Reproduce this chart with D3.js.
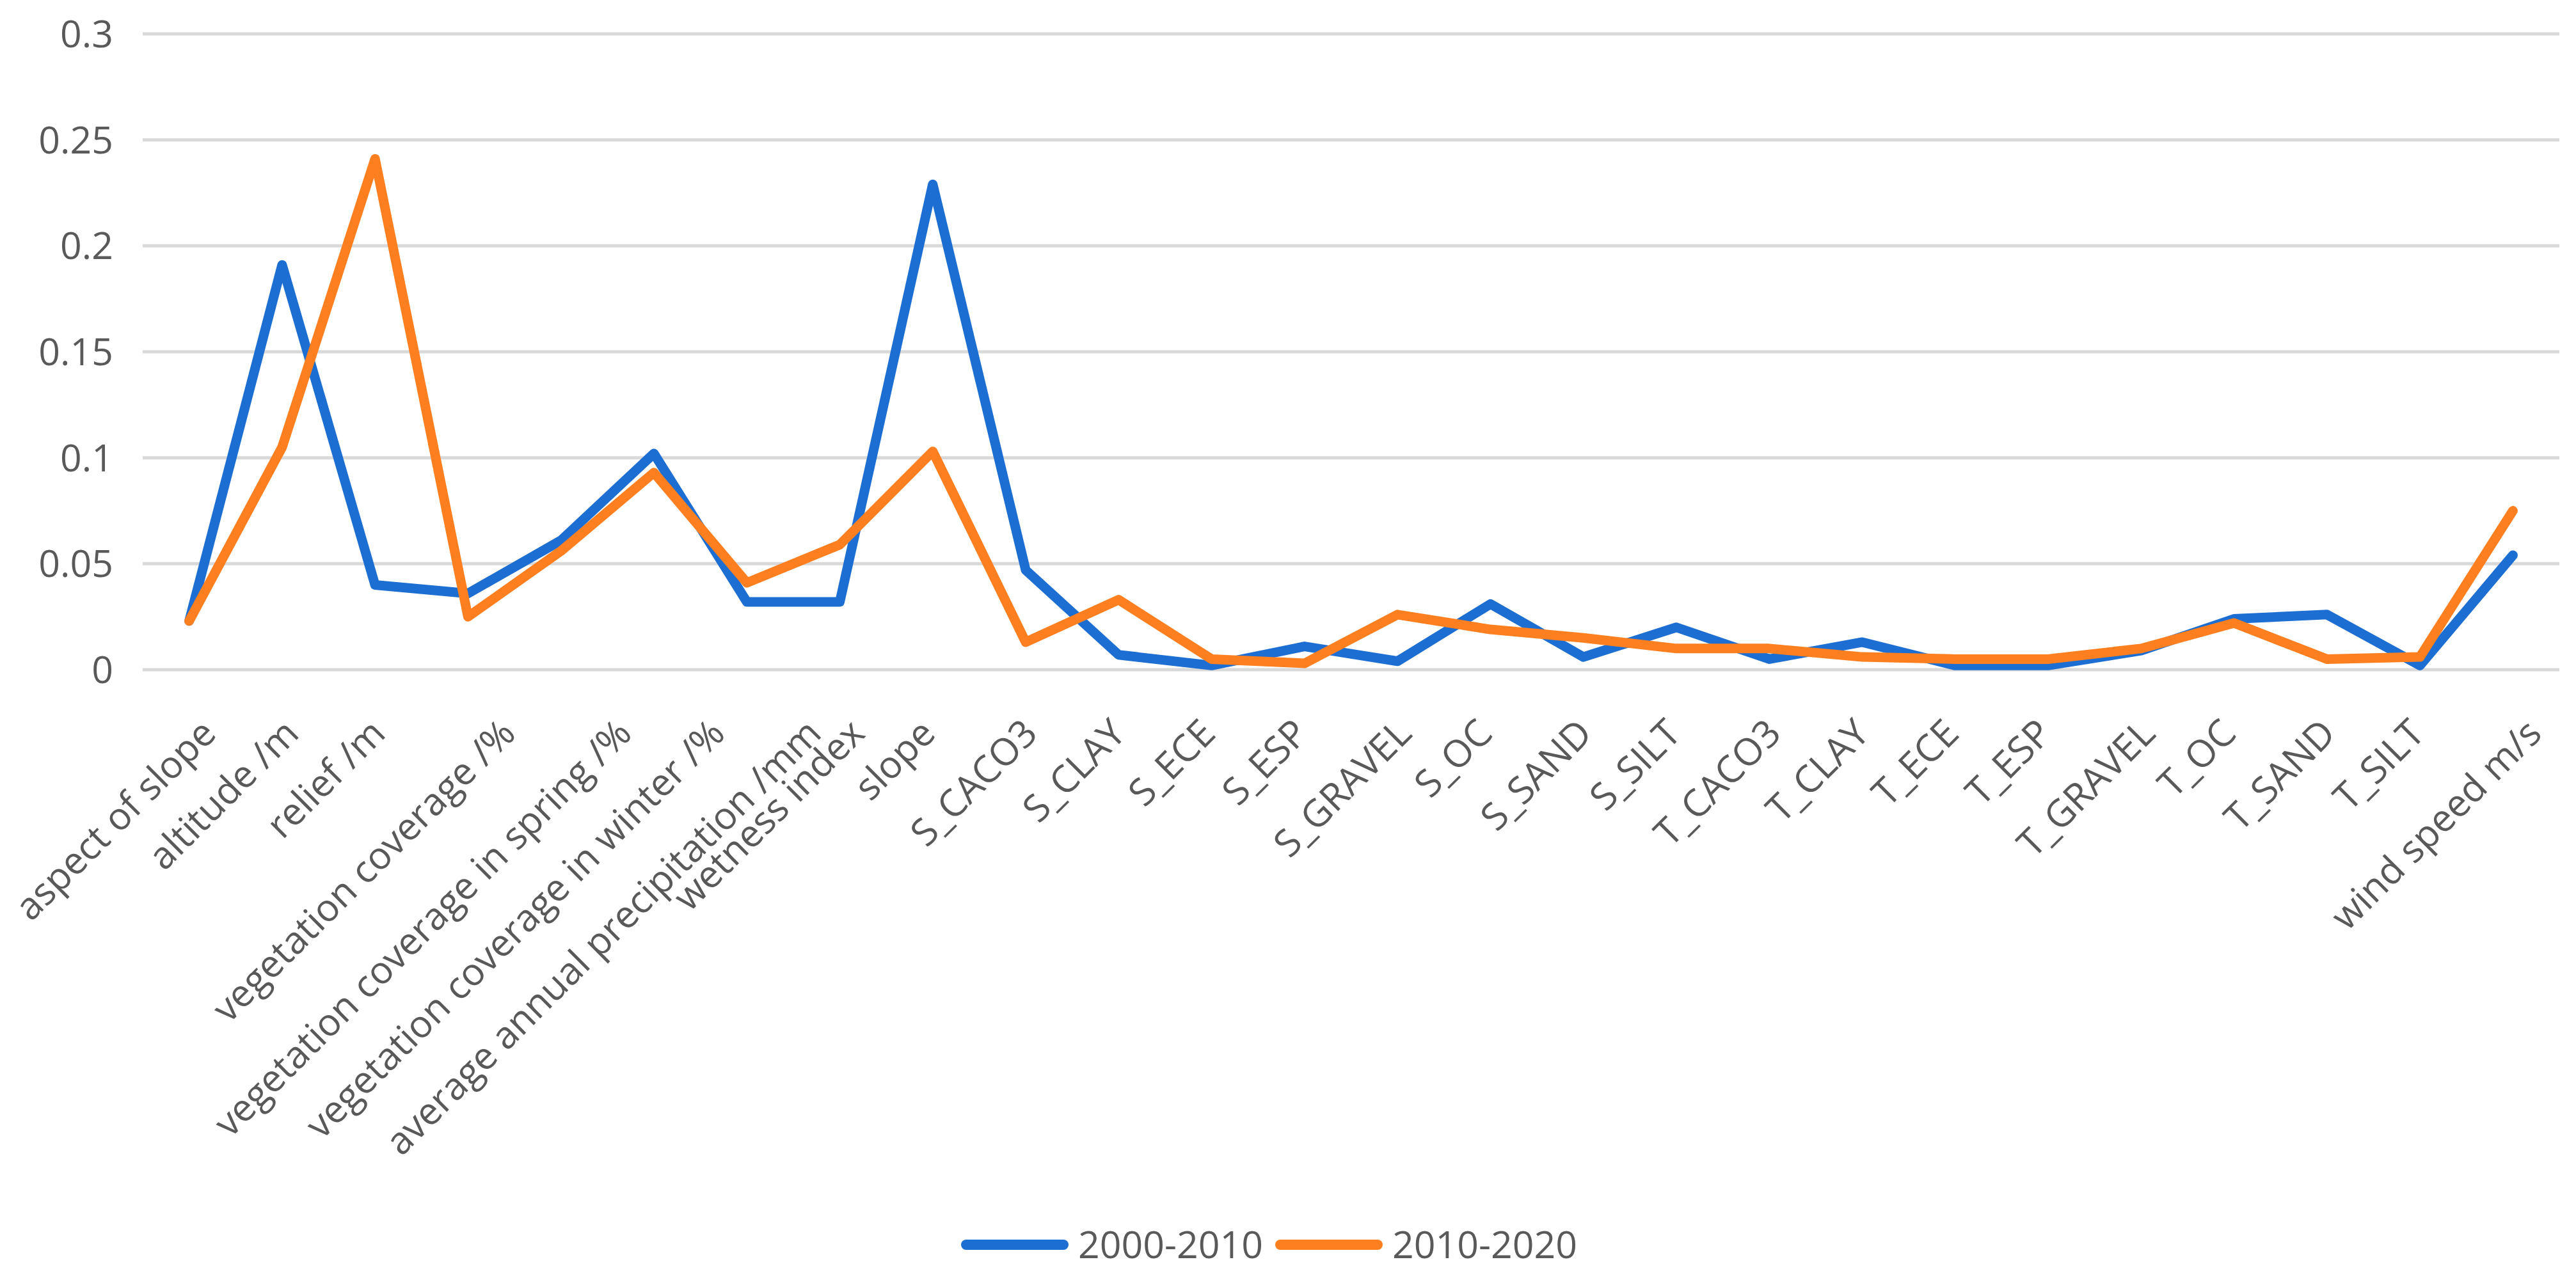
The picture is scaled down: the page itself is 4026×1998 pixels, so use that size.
<!DOCTYPE html>
<html>
<head>
<meta charset="utf-8">
<script src="https://cdn.jsdelivr.net/npm/d3@7"></script>
<style>
  html, body { margin: 0; padding: 0; background: #fff; }
  svg { display: block; }
</style>
</head>
<body>
<script>
const categories = [
  "aspect of slope", "altitude /m", "relief /m", "vegetation coverage /%",
  "vegetation coverage in spring /%", "vegetation coverage in winter /%",
  "average annual precipitation /mm", "wetness index", "slope",
  "S_CACO3", "S_CLAY", "S_ECE", "S_ESP", "S_GRAVEL", "S_OC", "S_SAND", "S_SILT",
  "T_CACO3", "T_CLAY", "T_ECE", "T_ESP", "T_GRAVEL", "T_OC", "T_SAND", "T_SILT",
  "wind speed m/s"
];
const series2000_2010 = [
  0.023, 0.191, 0.040, 0.036, 0.061, 0.102, 0.032, 0.032, 0.229,
  0.047, 0.007, 0.002, 0.011, 0.004, 0.031, 0.006, 0.020,
  0.005, 0.013, 0.002, 0.002, 0.009, 0.024, 0.026, 0.002,
  0.054
];
const series2010_2020 = [
  0.023, 0.105, 0.241, 0.025, 0.056, 0.093, 0.041, 0.059, 0.103,
  0.013, 0.033, 0.005, 0.003, 0.026, 0.019, 0.015, 0.010,
  0.010, 0.006, 0.005, 0.005, 0.010, 0.022, 0.005, 0.006,
  0.075
];
const seriesNames = ["2000-2010", "2010-2020"];
const yTicks = [0, 0.05, 0.1, 0.15, 0.2, 0.25, 0.3];
const yTickLabels = ["0", "0.05", "0.1", "0.15", "0.2", "0.25", "0.3"];

const W = 4026, H = 1998;
const colors = ["#1C6ED3", "#FD7F20"];
const FONT = "'Open Sans', sans-serif";
const TEXT_COLOR = "#595959";

const svg = d3.select("body").append("svg")
  .attr("width", W).attr("height", H)
  .attr("viewBox", `0 0 ${W} ${H}`);

const x = d3.scalePoint().domain(categories).range([223, 4000]).padding(0.5);
const y = d3.scaleLinear().domain([0, 0.3]).range([1047, 53]);

// gridlines
const grid = svg.append("g");
grid.selectAll("line").data(yTicks).join("line")
  .attr("x1", 223).attr("x2", 4000)
  .attr("y1", d => y(d)).attr("y2", d => y(d))
  .attr("stroke", "#d9d9d9").attr("stroke-width", 5);

// y axis labels
const yAxis = d3.axisLeft(y).tickValues(yTicks)
  .tickFormat((d, i) => yTickLabels[i]).tickSize(0).tickPadding(46);
const gy = svg.append("g").attr("transform", "translate(223,0)").call(yAxis);
gy.select(".domain").remove();
gy.selectAll("text")
  .attr("font-family", FONT).attr("font-size", 59)
  .attr("fill", TEXT_COLOR).attr("dy", "0.35em");

// x axis labels, rotated (longer labels shift right, as in the reference)
const xAxis = d3.axisBottom(x).tickSize(0).tickPadding(0);
const gx = svg.append("g").attr("transform", "translate(0,1047)").call(xAxis);
gx.select(".domain").remove();
gx.selectAll(".tick text")
  .attr("font-family", FONT).attr("font-size", 59)
  .attr("fill", TEXT_COLOR)
  .attr("text-anchor", "end")
  .attr("y", 0).attr("dy", 0)
  .attr("transform", function () {
    const L = this.getComputedTextLength();
    const dx = 0.143 * L - 14.5;
    return `translate(${dx},103) rotate(-45)`;
  });

// lines
const data = [series2000_2010, series2010_2020];
const line = d3.line()
  .x((d, i) => x(categories[i]))
  .y(d => y(d));
svg.append("g").selectAll("path").data(data).join("path")
  .attr("d", d => line(d))
  .attr("fill", "none")
  .attr("stroke", (d, i) => colors[i])
  .attr("stroke-width", 15)
  .attr("stroke-linejoin", "round")
  .attr("stroke-linecap", "round");

// legend
const legendItems = [
  { name: seriesNames[0], color: colors[0], x0: 1503 },
  { name: seriesNames[1], color: colors[1], x0: 1994 }
];
const lg = svg.append("g");
legendItems.forEach(it => {
  lg.append("line")
    .attr("x1", it.x0 + 7).attr("x2", it.x0 + 159)
    .attr("y1", 1946).attr("y2", 1946)
    .attr("stroke", it.color).attr("stroke-width", 16)
    .attr("stroke-linecap", "round");
  lg.append("text")
    .attr("x", it.x0 + 182).attr("y", 1946).attr("dy", "0.35em")
    .attr("font-family", FONT).attr("font-size", 59)
    .attr("fill", TEXT_COLOR)
    .text(it.name);
});
</script>
</body>
</html>
